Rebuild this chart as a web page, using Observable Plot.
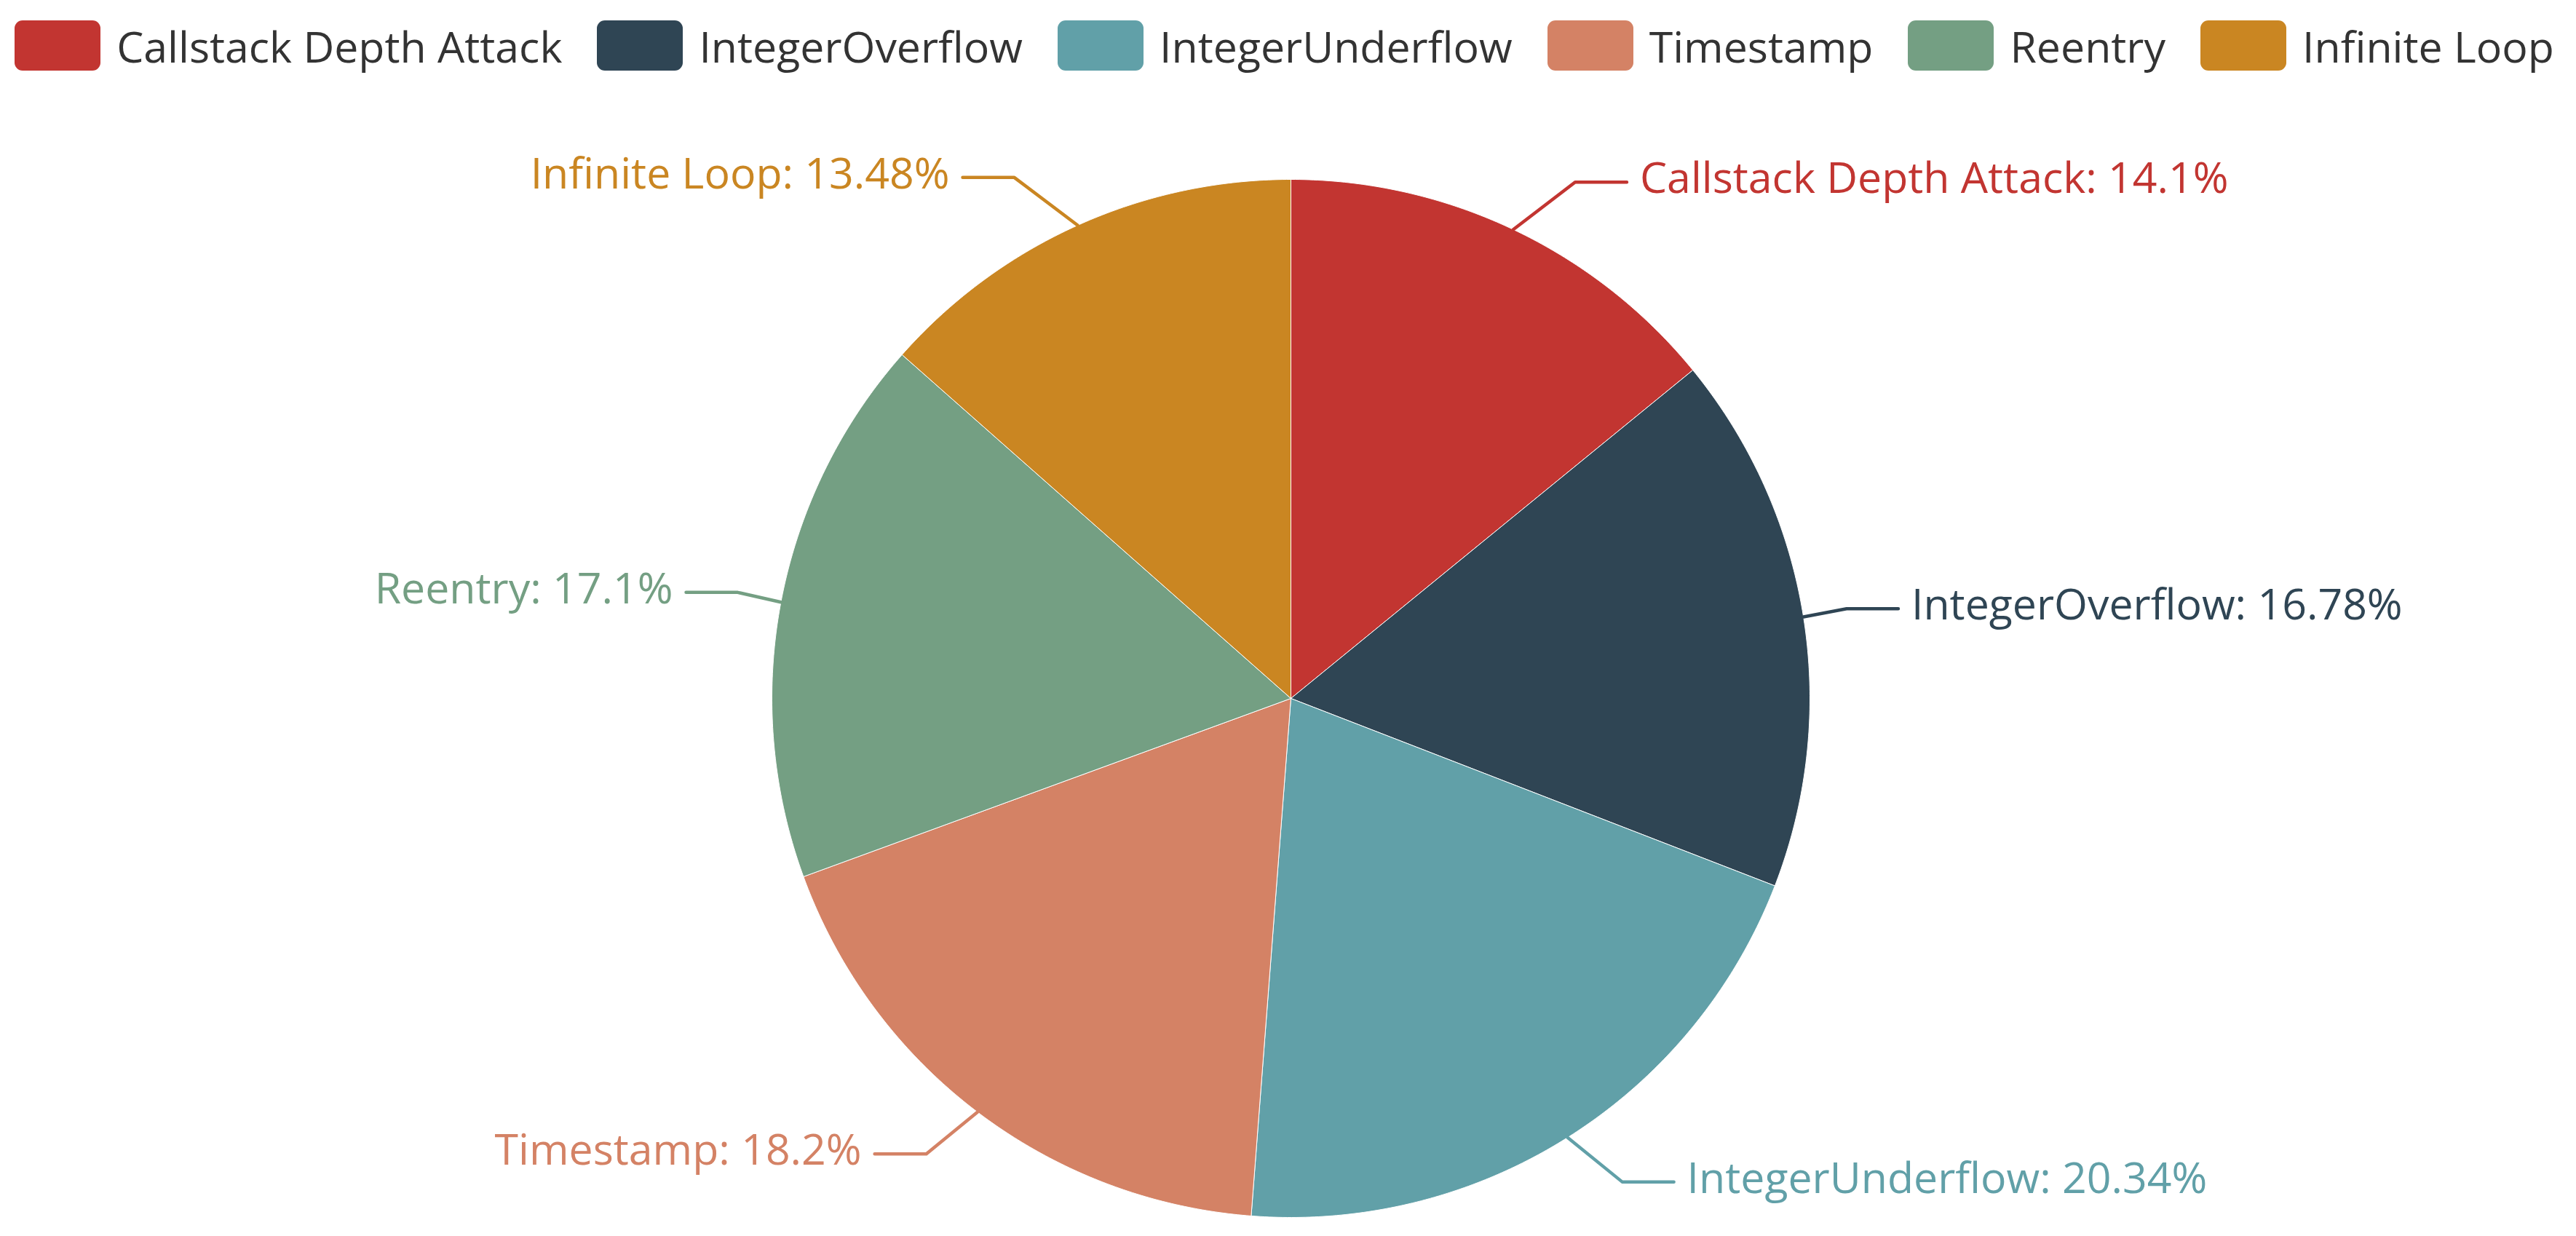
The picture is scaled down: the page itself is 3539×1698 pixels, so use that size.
<!DOCTYPE html>
<html>
<head>
<meta charset="utf-8">
<script src="https://cdn.jsdelivr.net/npm/d3@7"></script>
<script src="https://cdn.jsdelivr.net/npm/@observablehq/plot@0.6"></script>
<style>
  html, body { margin: 0; padding: 0; background: #fff; }
  body { width: 3539px; height: 1698px; overflow: hidden; font-family: "Open Sans", sans-serif; }
  #legend { height: 125px; display: flex; align-items: center; justify-content: center; padding-right: 10px; box-sizing: border-box; }
  .item { display: flex; align-items: center; margin: 0 24px; }
  .sw { width: 118px; height: 69px; border-radius: 11px; margin-right: 22px; }
  .lt { font-size: 59px; color: #333; white-space: nowrap; }
  #chart svg { display: block; }
</style>
</head>
<body>
<div id="legend"></div>
<div id="chart"></div>
<script>
// ---- data ----
const categories = ["Callstack Depth Attack", "IntegerOverflow", "IntegerUnderflow", "Timestamp", "Reentry", "Infinite Loop"];
const values = [14.1, 16.78, 20.34, 18.2, 17.1, 13.48];
const colors = ["#c23531", "#2f4554", "#61a0a8", "#d48265", "#749f83", "#ca8622"];

// ---- layout ----
const W = 3539, H = 1573;
const cx = 1773, cy = 834, R = 713;
const fontSize = 59;

// legend
const legend = d3.select("#legend");
categories.forEach((c, i) => {
  const it = legend.append("div").attr("class", "item");
  it.append("div").attr("class", "sw").style("background", colors[i]);
  it.append("div").attr("class", "lt").text(c);
});

// pie geometry from data
const pie = d3.pie().sort(null).value(d => d.value).startAngle(0).endAngle(2 * Math.PI);
const arcs = pie(categories.map((name, i) => ({name, value: values[i]})));

const slicePts = [];
arcs.forEach(a => {
  const name = a.data.name;
  slicePts.push({name, x: cx, y: cy});
  const n = Math.max(2, Math.ceil((a.endAngle - a.startAngle) / (Math.PI / 360)));
  for (let k = 0; k <= n; k++) {
    const t = a.startAngle + (a.endAngle - a.startAngle) * k / n;
    slicePts.push({name, x: cx + R * Math.sin(t), y: cy - R * Math.cos(t)});
  }
  slicePts.push({name, x: cx, y: cy});
});

// label leader lines (echarts-like layout)
const kY = 1.101, A = 1.083, B = 1.153, L2 = 71, gap = 18;
const linePts = [], labels = [];
arcs.forEach(a => {
  const name = a.data.name;
  const m = (a.startAngle + a.endAngle) / 2;
  const s = Math.sin(m) >= 0 ? 1 : -1;
  const dy = -kY * R * Math.cos(m);
  const dx = s * A * R * Math.sqrt(Math.max(0, 1 - (dy / (B * R)) ** 2));
  const ex = cx + dx, ey = cy + dy;
  linePts.push({name, x: cx + R * Math.sin(m), y: cy - R * Math.cos(m)});
  linePts.push({name, x: ex, y: ey});
  linePts.push({name, x: ex + s * L2, y: ey});
  labels.push({name, side: s, x: ex + s * (L2 + gap), y: ey, text: `${name}: ${a.data.value}%`});
});

const chart = Plot.plot({
  width: W, height: H,
  margin: 0,
  x: {type: "identity", axis: null},
  y: {type: "identity", axis: null},
  color: {domain: categories, range: colors},
  style: {fontFamily: "'Open Sans', sans-serif", background: "#fff"},
  marks: [
    Plot.line(slicePts, {x: "x", y: "y", z: "name", fill: "name", stroke: "#fff", strokeWidth: 1, curve: "linear"}),
    Plot.line(linePts, {x: "x", y: "y", z: "name", stroke: "name", strokeWidth: 4.5, curve: "linear"}),
    Plot.text(labels.filter(d => d.side > 0), {x: "x", y: "y", dy: -4, text: "text", fill: "name", textAnchor: "start", fontSize, lineAnchor: "middle"}),
    Plot.text(labels.filter(d => d.side < 0), {x: "x", y: "y", dy: -4, text: "text", fill: "name", textAnchor: "end", fontSize, lineAnchor: "middle"})
  ]
});
document.getElementById("chart").appendChild(chart);
</script>
</body>
</html>
